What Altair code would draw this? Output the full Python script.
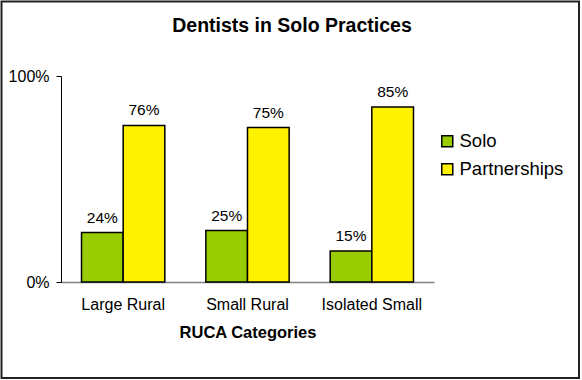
import altair as alt
import pandas as pd

categories = ["Large Rural", "Small Rural", "Isolated Small"]
series = ["Solo", "Partnerships"]
solo = [24, 25, 15]
partnerships = [76, 75, 85]
colors = ["#99CC00", "#FFF200"]
title_text = "Dentists in Solo Practices"

rows = []
for i, c in enumerate(categories):
    rows.append({"cat": c, "series": "Solo", "v": solo[i] / 100})
    rows.append({"cat": c, "series": "Partnerships", "v": partnerships[i] / 100})
df = pd.DataFrame(rows)

FONT = "Liberation Sans"
W, H = 373, 206

x = alt.X("cat:N", sort=categories,
          scale=alt.Scale(paddingInner=0.33, paddingOuter=0.165),
          axis=alt.Axis(title="RUCA Categories", labelAngle=0, ticks=False,
                        labelPadding=14, labelFontSize=16, labelFont=FONT,
                        labelColor="#000", titleFont=FONT, titleFontSize=16.5,
                        titleFontWeight="bold", titleColor="#000", titlePadding=12,
                        domainColor="#808080", domainWidth=1.5))
xo = alt.XOffset("series:N", sort=series,
                 scale=alt.Scale(paddingInner=0, paddingOuter=0))
y = alt.Y("v:Q", scale=alt.Scale(domain=[0, 1]),
          axis=alt.Axis(values=[0, 1], format=".0%", title=None, grid=False,
                        tickSize=5, tickColor="#000", domainColor="#000",
                        labelFont=FONT, labelFontSize=16, labelColor="#000",
                        labelPadding=7))

bars = alt.Chart(df).mark_bar(stroke="#000", strokeWidth=1.5).encode(
    x=x, xOffset=xo, y=y,
    color=alt.Color("series:N", sort=series,
                    scale=alt.Scale(domain=series, range=colors),
                    legend=alt.Legend(title=None, orient="none", legendX=377, legendY=56,
                                      symbolType="square", symbolSize=121,
                                      symbolStrokeColor="#000", symbolStrokeWidth=1.5,
                                      labelFont=FONT, labelFontSize=18.5, labelColor="#000",
                                      labelOffset=3, rowPadding=9)),
)

labels = alt.Chart(df).mark_text(baseline="bottom", dy=-7, font=FONT, fontSize=15.5,
                                 color="#000").encode(
    x=x, xOffset=xo, y=y, text=alt.Text("v:Q", format=".0%"))

border = alt.Chart(pd.DataFrame({"a": [0]})).mark_rect(
    fill=None, stroke="#222", strokeWidth=2, clip=False).encode(
    x=alt.value(-59.5), x2=alt.value(518), y=alt.value(-74.5), y2=alt.value(302))

title = alt.Chart(pd.DataFrame({"t": [title_text]})).mark_text(
    font=FONT, fontSize=19.5, fontWeight="bold", color="#000",
    align="center", baseline="middle").encode(
    text="t:N", x=alt.value(231), y=alt.value(-50))

chart = alt.layer(border, bars, labels, title).properties(
    width=W, height=H,
    background="white",
    autosize=alt.AutoSizeParams(type="none"),
    padding={"left": 61, "top": 76, "right": 148, "bottom": 98},
).configure_view(stroke=None)

chart.save("out.html", embed_options={"renderer": "svg", "actions": False})
